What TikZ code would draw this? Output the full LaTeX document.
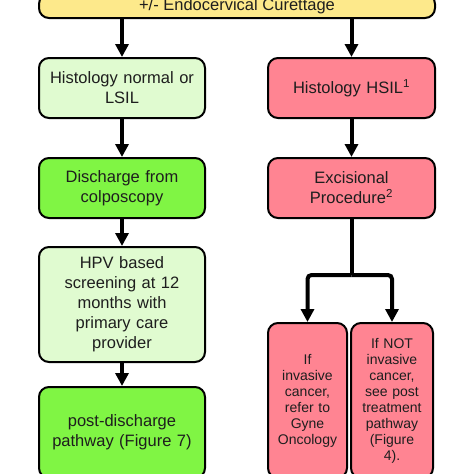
\documentclass[tikz,border=0pt]{standalone}
\usepackage{fontspec}
\setmainfont{Liberation Sans}
\usepackage{xcolor}
\usetikzlibrary{arrows.meta}

\definecolor{topyellow}{HTML}{FDE98B}
\definecolor{palegreen}{HTML}{E0FBD0}
\definecolor{brightgreen}{HTML}{80F544}
\definecolor{hsilpink}{HTML}{FF8492}
\definecolor{inkgray}{HTML}{1E1E1E}

\begin{document}
\begin{tikzpicture}[x=1pt,y=-1pt]
			\tikzstyle{step box} = [draw, line width=2pt, rounded corners=10pt, align=center, inner sep=2pt,
				text=inkgray, font=\fontsize{16.5}{20}\selectfont]
			\tikzstyle{small box} = [step box, font=\fontsize{14}{16}\selectfont]
			\tikzset{edge/.style = {line width=4pt, rounded corners=4pt, -{Triangle[width=13pt,length=13pt]}}}
			
			\useasboundingbox (0,0) rectangle (474,474);
			
			\node[step box, fill=topyellow, minimum width=396pt, minimum height=24pt](curettage) at (237,6) {+/- Endocervical Curettage};
			
			\node[step box, fill=palegreen, minimum width=166pt, minimum height=60pt, text width=156pt](normal) at (122,88) {Histology normal or\\LSIL};
			\node[step box, fill=hsilpink, minimum width=167pt, minimum height=60pt, text width=157pt](hsil) at (351.5,88) {Histology HSIL\textsuperscript{1}};
			\draw[edge](curettage.south -| normal) to (normal);
			\draw[edge](curettage.south -| hsil) to (hsil);
			
			\node[step box, fill=brightgreen, minimum width=166pt, minimum height=60pt, text width=156pt](discharge) at (122,188) {Discharge from\\colposcopy};
			\node[step box, fill=hsilpink, minimum width=167pt, minimum height=60pt, text width=157pt](excisional) at (351.5,188) {Excisional\\Procedure\textsuperscript{2}};
			\draw[edge](normal) to (discharge);
			\draw[edge](hsil) to (excisional);
			
			\node[step box, fill=palegreen, minimum width=166pt, minimum height=115pt, text width=156pt](screening) at (122,304.5) {HPV based\\screening at 12\\months with\\primary care\\provider};
			\draw[edge](discharge) to (screening);
			
			\node[step box, fill=brightgreen, minimum width=166pt, minimum height=91pt, text width=156pt](postdischarge) at (122,432.5) {post-discharge\\pathway (Figure 7)};
			\draw[edge](screening) to (postdischarge);
			
			\node[small box, fill=hsilpink, minimum width=79pt, minimum height=155pt, text width=72pt](invasive) at (307.5,400.5) {If\\invasive\\cancer,\\refer to\\Gyne\\Oncology};
			\node[small box, fill=hsilpink, minimum width=82pt, minimum height=155pt, text width=75pt](notinvasive) at (392,400.5) {If NOT\\invasive\\cancer,\\see post\\treatment\\pathway\\(Figure\\4).};
			
			\coordinate (split) at (351.5,275);
			\draw[line width=4pt](excisional) to (split);
			\draw[edge](split) -| (invasive);
			\draw[edge](split) -| (notinvasive);
			
			\end{tikzpicture}
\end{document}
